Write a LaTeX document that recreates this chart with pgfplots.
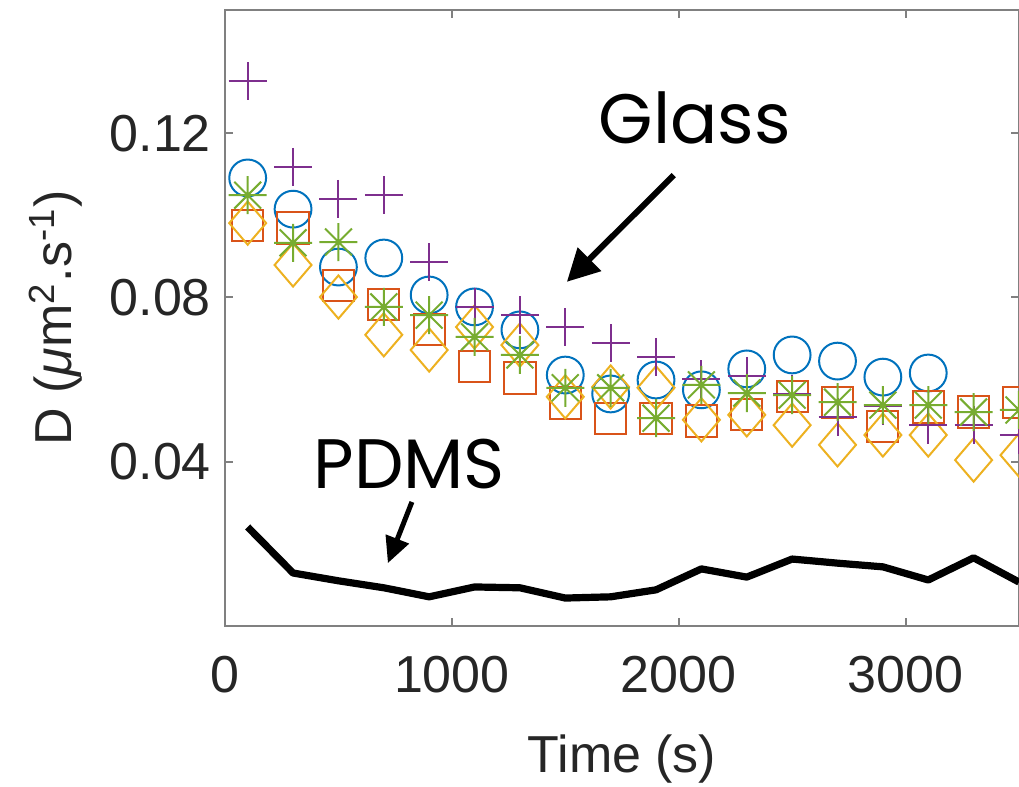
\documentclass[border=0pt]{standalone}
\usepackage{fontspec}
\setmainfont{Liberation Sans}
\newfontfamily\poppins{Poppins}
\usepackage{pgfplots}
\pgfplotsset{compat=1.18}
\usetikzlibrary{arrows.meta}
\definecolor{mblue}{rgb}{0,0.447,0.741}
\definecolor{mred}{rgb}{0.850,0.325,0.098}
\definecolor{myellow}{rgb}{0.929,0.694,0.125}
\definecolor{mpurple}{rgb}{0.494,0.184,0.556}
\definecolor{mgreen}{rgb}{0.466,0.674,0.188}
\definecolor{axgray}{rgb}{0.50,0.50,0.50}
\definecolor{txtgray}{rgb}{0.15,0.15,0.15}
\pgfdeclareplotmark{mstar}{%
  \pgfpathmoveto{\pgfqpoint{-\pgfplotmarksize}{0pt}}%
  \pgfpathlineto{\pgfqpoint{\pgfplotmarksize}{0pt}}%
  \pgfpathmoveto{\pgfqpoint{0pt}{-\pgfplotmarksize}}%
  \pgfpathlineto{\pgfqpoint{0pt}{\pgfplotmarksize}}%
  \pgfpathmoveto{\pgfqpoint{-.7071\pgfplotmarksize}{-.7071\pgfplotmarksize}}%
  \pgfpathlineto{\pgfqpoint{.7071\pgfplotmarksize}{.7071\pgfplotmarksize}}%
  \pgfpathmoveto{\pgfqpoint{-.7071\pgfplotmarksize}{.7071\pgfplotmarksize}}%
  \pgfpathlineto{\pgfqpoint{.7071\pgfplotmarksize}{-.7071\pgfplotmarksize}}%
  \pgfusepathqstroke}
\begin{document}
\begin{tikzpicture}
\begin{axis}[
  scale only axis,
  width=198.5pt, height=154pt,
  xmin=0, xmax=3500, ymin=0, ymax=0.15,
  xtick={0,1000,2000,3000},
  ytick={0.04,0.08,0.12},
  scaled y ticks=false,
  tick align=inside,
  major tick length=2pt,
  axis line style={axgray, line width=0.6pt},
  every tick/.style={axgray, line width=0.5pt},
  tick label style={font=\fontsize{13}{15}\selectfont, color=txtgray},
  label style={font=\fontsize{13}{15}\selectfont, color=txtgray},
  /pgf/number format/assume math mode=true,
  /pgf/number format/1000 sep={},
  yticklabel style={/pgf/number format/.cd, fixed, fixed zerofill, precision=2},
  xticklabel style={yshift=-4pt},
  xlabel={Time (s)},
  ylabel={D (\textit{μ}m\textsuperscript{2}.s\textsuperscript{-1})},
  xlabel style={yshift=-3.5pt},
  ylabel style={yshift=0pt},
  clip=true,
]
% blue circles
\addplot[only marks, mark=o, mark size=4.6pt, mark options={line width=0.5pt}, color=mblue] coordinates {
(100,0.1091)(300,0.1015)(500,0.0874)(700,0.0896)(900,0.0806)(1100,0.0777)(1300,0.0721)(1500,0.0611)
(1700,0.0565)(1900,0.0599)(2100,0.0575)(2300,0.0626)(2500,0.0660)(2700,0.0645)(2900,0.0606)(3100,0.0616)};
% red squares
\addplot[only marks, mark=square, mark size=3.9pt, mark options={line width=0.5pt}, color=mred] coordinates {
(100,0.0976)(300,0.0969)(500,0.0830)(700,0.0782)(900,0.0721)(1100,0.0631)(1300,0.0604)(1500,0.0543)
(1700,0.0506)(1900,0.0506)(2100,0.0499)(2300,0.0514)(2500,0.0558)(2700,0.0545)(2900,0.0485)(3100,0.0533)
(3300,0.0521)(3500,0.0545)};
% yellow diamonds
\addplot[only marks, mark=diamond, mark size=5.4pt, mark options={line width=0.5pt, xscale=1.14}, color=myellow] coordinates {
(100,0.0981)(300,0.0879)(500,0.0801)(700,0.0709)(900,0.0672)(1100,0.0728)(1300,0.0684)(1500,0.0558)
(1700,0.0582)(1900,0.0580)(2100,0.0502)(2300,0.0514)(2500,0.0489)(2700,0.0441)(2900,0.0465)(3100,0.0465)
(3300,0.0404)(3500,0.0416)};
% purple plus
\addplot[only marks, mark=+, mark size=4.75pt, mark options={line width=0.5pt}, color=mpurple] coordinates {
(100,0.1327)(300,0.1118)(500,0.1040)(700,0.1049)(900,0.0886)(1100,0.0777)(1300,0.0757)(1500,0.0728)
(1700,0.0689)(1900,0.0655)(2100,0.0601)(2300,0.0609)(2500,0.0565)(2700,0.0509)(2900,0.0536)(3100,0.0489)
(3300,0.0489)(3500,0.0465)};
% green asterisks
\addplot[only marks, mark=mstar, mark size=4.75pt, mark options={line width=0.5pt}, color=mgreen] coordinates {
(100,0.1049)(300,0.0933)(500,0.0935)(700,0.0777)(900,0.0757)(1100,0.0704)(1300,0.0660)(1500,0.0580)
(1700,0.0580)(1900,0.0506)(2100,0.0587)(2300,0.0567)(2500,0.0562)(2700,0.0545)(2900,0.0538)(3100,0.0538)
(3300,0.0521)(3500,0.0526)};
% PDMS line
\addplot[black, line width=1.8pt, no marks, line join=round] coordinates {
(100,0.0241)(300,0.0129)(500,0.0110)(700,0.0093)(900,0.0071)(1100,0.0095)(1300,0.0093)(1500,0.0068)
(1700,0.0071)(1900,0.0088)(2100,0.0139)(2300,0.0119)(2500,0.0163)(2700,0.0153)(2900,0.0144)(3100,0.0112)
(3300,0.0166)(3500,0.0107)};
% annotations
\node[font=\poppins\fontsize{17.5}{20}\selectfont, anchor=base] at (axis cs:2070,0.1174) {Glass};
\node[font=\poppins\fontsize{17.5}{20}\selectfont, anchor=base] at (axis cs:812,0.0335) {PDMS};
\draw[line width=1.5pt, -{Triangle[length=8pt,width=8pt]}] (axis cs:1978,0.1098) -- (axis cs:1507,0.0838);
\draw[line width=1.25pt, -{Triangle[length=6.5pt,width=6pt]}] (axis cs:824,0.0302) -- (axis cs:718,0.0153);
\end{axis}
\pgfresetboundingbox
\path[use as bounding box] (current axis.south west) ++(-56.25pt,-40.25pt) rectangle ++(254.75pt,196.75pt);
\end{tikzpicture}
\end{document}
